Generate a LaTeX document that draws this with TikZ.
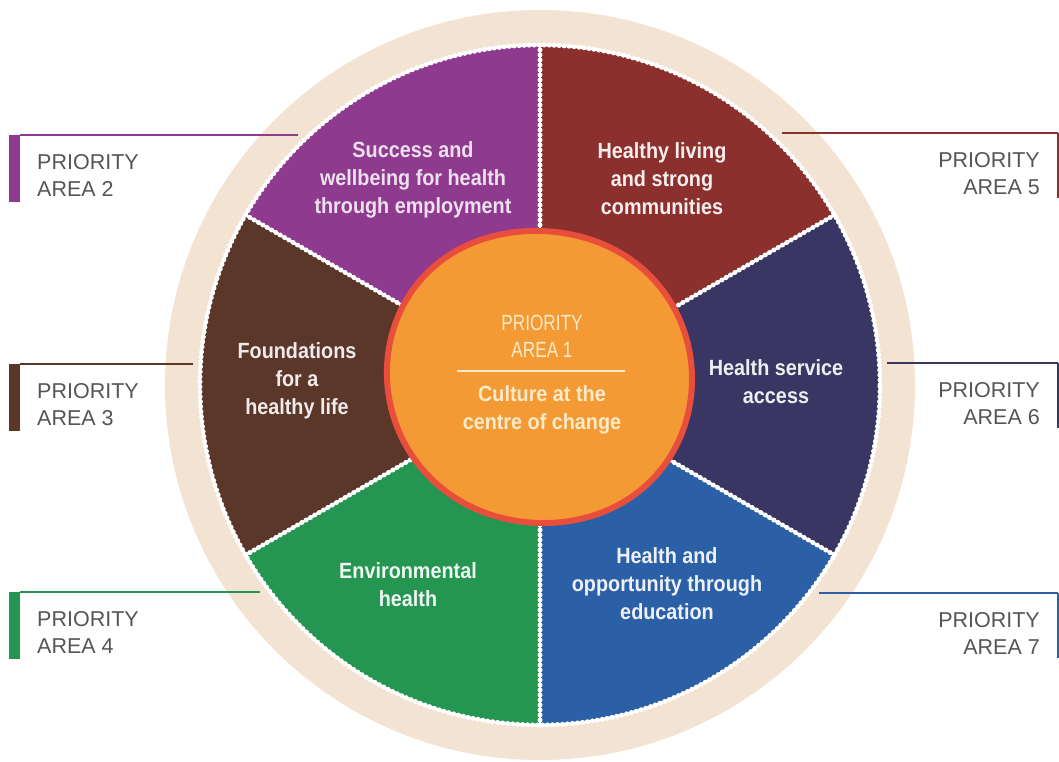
\documentclass[tikz,border=0pt]{standalone}
\usepackage{fontspec}
\setmainfont{Liberation Sans}
\newfontfamily\segfont[FakeStretch=0.9]{Liberation Sans}
\newfontfamily\thinfont[FakeStretch=0.78]{Liberation Sans}
\usepackage{tikz}
\usetikzlibrary{calc, positioning, hobby}
\definecolor{ringbeige}{RGB}{243,227,211}
\definecolor{areaPurple}{RGB}{142,58,143}
\definecolor{areaBrown}{RGB}{91,55,42}
\definecolor{areaGreen}{RGB}{37,150,82}
\definecolor{areaRed}{RGB}{140,48,45}
\definecolor{areaNavy}{RGB}{58,54,100}
\definecolor{areaBlue}{RGB}{44,96,166}
\definecolor{coreOrange}{RGB}{243,154,52}
\definecolor{coreRed}{RGB}{233,78,60}
\definecolor{labelgray}{RGB}{85,85,85}
\definecolor{cream}{RGB}{252,234,200}

\begin{document}
\begin{tikzpicture}[x=1pt, y=1pt,
  seg/.style={font=\segfont\bfseries\fontsize{22}{28}\selectfont, align=center, inner sep=0pt},
  prio/.style={font=\fontsize{21.5}{27}\selectfont, text=labelgray, inner sep=0pt},
  beads/.style={white, line width=5pt, line cap=round, dash pattern=on 0pt off 5pt,
    preaction={draw=white, line width=2.6pt, solid}}]
\pgfmathsetmacro{\wheelr}{340}
\pgfmathsetmacro{\ringr}{375}
\pgfmathsetmacro{\tapr}{348}

\useasboundingbox (-540,-377) rectangle (519,385);
\fill[ringbeige] (0,0) circle (\ringr);

% six coloured sectors, starting at -30 degrees
\foreach \c [count=\i from 0] in {areaNavy,areaRed,areaPurple,areaBrown,areaGreen,areaBlue}
  \fill[\c] (0,0) -- ({60*\i-30}:\wheelr) arc ({60*\i-30}:{60*\i+30}:\wheelr) -- cycle;
\foreach \a in {30,90,...,330}
  \draw[beads] (0,0) -- (\a:\wheelr);
\draw[beads] (0,0) circle (\wheelr);

% priority labels, left side
\foreach \n/\c/\y/\a in {2/areaPurple/250/134.1, 3/areaBrown/21/176.5, 4/areaGreen/-207/216.5} {
  \coordinate (rim\n) at (\a:\tapr);
  \coordinate (bar\n) at (-520,\y);
  \fill[\c] (bar\n) rectangle ++(-11,-67);
  \draw[\c, line width=1.2pt] (bar\n) -- (rim\n |- bar\n);
  \node[prio, anchor=north west, align=left] (prio\n) at (-503,\y-19) {PRIORITY\\AREA \n};
}
% priority labels, right side
\foreach \n/\c/\y/\a in {5/areaRed/252/46, 6/areaNavy/22/3.6, 7/areaBlue/-208/-36.7} {
  \coordinate (rim\n) at (\a:\tapr);
  \coordinate (bar\n) at (518,\y);
  \draw[\c, line width=1.2pt] (rim\n |- bar\n) -- (bar\n);
  \draw[\c, line width=2.4pt] (bar\n) -- ++(0,-65);
  \node[prio, anchor=north east, align=right] (prio\n) at (500,\y-19) {PRIORITY\\AREA \n};
}

% sector texts
\node[seg, text=areaPurple!15!white] (area2) at (-127,205) {Success and\\wellbeing for health\\through employment};
\node[seg, text=areaBrown!10!white] (area3) at (-243,4) {Foundations\\for a\\healthy life};
\node[seg, text=areaGreen!8!white] (area4) at (-132,-200) {Environmental\\health};
\node[seg, text=areaRed!8!white] (area5) at (122,206) {Healthy living\\and strong\\communities};
\node[seg, text=areaNavy!8!white] (area6) at (236,3) {Health service\\access};
\node[seg, text=areaBlue!8!white] (area7) at (127,-199) {Health and\\opportunity through\\education};

% centre blob, a slightly uneven circle
\draw[coreRed, line width=6pt, fill=coreOrange, shift={(0,7)}, use Hobby shortcut, closed=true]
  (0:152) .. (45:150) .. (90:147) .. (135:154) .. (180:153) .. (225:148) .. (270:145) .. (315:151);
\node[font=\thinfont\fontsize{22}{27}\selectfont, text=cream, align=center, inner sep=0pt] (area1) at (2,49) {PRIORITY\\AREA 1};
\draw[cream, line width=1.5pt] (-83,14) -- (85,14);
\node[seg, text=cream] (culture) at (2,-25) {Culture at the\\centre of change};

\end{tikzpicture}
\end{document}
